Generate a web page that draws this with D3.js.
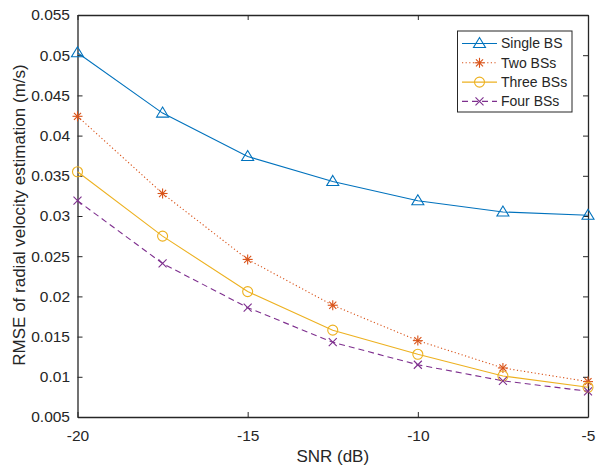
<!DOCTYPE html>
<html>
<head>
<meta charset="utf-8">
<script src="https://cdn.jsdelivr.net/npm/d3@7"></script>
<style>
    body { margin: 0; background: #fff; }
    text { font-family: "Liberation Sans", Arial, sans-serif; fill: #262626; }
</style>
</head>
<body>
<svg id="chart" width="597" height="468"></svg>
<script>
var snr = [-20, -17.5, -15, -12.5, -10, -7.5, -5];
var singleBS = [0.0503, 0.0428, 0.0374, 0.0343, 0.0319, 0.0305, 0.0301];
var twoBSs = [0.0424, 0.0328, 0.0246, 0.0189, 0.0145, 0.0111, 0.0094];
var threeBSs = [0.0355, 0.0275, 0.0206, 0.0158, 0.0128, 0.0101, 0.0087];
var fourBSs = [0.0319, 0.0241, 0.0186, 0.0143, 0.0115, 0.0095, 0.0082];
var xTicks = [-20, -15, -10, -5];
var yTicks = [0.005, 0.01, 0.015, 0.02, 0.025, 0.03, 0.035, 0.04, 0.045, 0.05, 0.055];
var seriesNames = ["Single BS", "Two BSs", "Three BSs", "Four BSs"];

var series = [
    { name: seriesNames[0], values: singleBS, color: "#0072BD", dash: null, marker: "triangle" },
    { name: seriesNames[1], values: twoBSs, color: "#D95319", dash: "1.2,2.4", marker: "star" },
    { name: seriesNames[2], values: threeBSs, color: "#EDB120", dash: null, marker: "circle" },
    { name: seriesNames[3], values: fourBSs, color: "#7E2F8E", dash: "6,4", marker: "cross" }
];

var svg = d3.select("#chart");
var plotLeft = 77.5, plotRight = 588, plotTop = 15, plotBottom = 417;

var x = d3.scaleLinear().domain([-20, -5]).range([plotLeft, plotRight]);
var y = d3.scaleLinear().domain([0.005, 0.055]).range([plotBottom, plotTop]);

var axisColor = "#262626";

// axes with inward ticks (MATLAB style)
var gx = svg.append("g").attr("transform", "translate(0," + plotBottom + ")")
    .call(d3.axisBottom(x).tickValues(xTicks).tickSizeInner(-5).tickSizeOuter(0)
        .tickFormat(function (d) { return d; }));
var gxt = svg.append("g").attr("transform", "translate(0," + plotTop + ")")
    .call(d3.axisTop(x).tickValues(xTicks).tickSizeInner(-5).tickSizeOuter(0).tickFormat(""));
var gy = svg.append("g").attr("transform", "translate(" + plotLeft + ",0)")
    .call(d3.axisLeft(y).tickValues(yTicks).tickSizeInner(-5).tickSizeOuter(0).tickPadding(7.5)
        .tickFormat(function (d) { return String(+d.toFixed(3)); }));
var gyr = svg.append("g").attr("transform", "translate(" + plotRight + ",0)")
    .call(d3.axisRight(y).tickValues(yTicks).tickSizeInner(-5).tickSizeOuter(0).tickFormat(""));

[gx, gxt, gy, gyr].forEach(function (g) {
    g.selectAll("path").attr("stroke", axisColor).attr("stroke-width", 1.3);
    g.selectAll("line").attr("stroke", axisColor).attr("stroke-width", 1);
    g.selectAll("text").attr("font-size", 15.5).attr("fill", axisColor)
        .style("font-family", "'Liberation Sans', Arial, sans-serif");
});
gx.selectAll("text").attr("y", 24).attr("dy", null);

// labels
svg.append("text")
    .attr("x", (plotLeft + plotRight) / 2)
    .attr("y", 462)
    .attr("text-anchor", "middle")
    .attr("font-size", 17)
    .text("SNR (dB)");

svg.append("text")
    .attr("transform", "translate(25,215) rotate(-90)")
    .attr("text-anchor", "middle")
    .attr("font-size", 17)
    .text("RMSE of radial velocity estimation (m/s)");

function drawMarker(g, type, color, cx, cy) {
    if (type === "triangle") {
        g.append("path")
            .attr("d", "M" + cx + "," + (cy - 6) + "L" + (cx + 6) + "," + (cy + 4) + "L" + (cx - 6) + "," + (cy + 4) + "Z")
            .attr("fill", "none").attr("stroke", color).attr("stroke-width", 1.1);
    } else if (type === "circle") {
        g.append("circle").attr("cx", cx).attr("cy", cy).attr("r", 5)
            .attr("fill", "none").attr("stroke", color).attr("stroke-width", 1.1);
    } else if (type === "star") {
        var r = 5;
        [0, 45, 90, 135].forEach(function (a) {
            var rad = a * Math.PI / 180;
            g.append("line")
                .attr("x1", cx - r * Math.cos(rad)).attr("y1", cy - r * Math.sin(rad))
                .attr("x2", cx + r * Math.cos(rad)).attr("y2", cy + r * Math.sin(rad))
                .attr("stroke", color).attr("stroke-width", 1.1);
        });
    } else if (type === "cross") {
        var s = 4;
        g.append("path")
            .attr("d", "M" + (cx - s) + "," + (cy - s) + "L" + (cx + s) + "," + (cy + s) +
                "M" + (cx - s) + "," + (cy + s) + "L" + (cx + s) + "," + (cy - s))
            .attr("stroke", color).attr("stroke-width", 1.1);
    }
}

var line = d3.line()
    .x(function (d, i) { return x(snr[i]); })
    .y(function (d) { return y(d); });

var plot = svg.append("g");
series.forEach(function (s) {
    plot.append("path")
        .datum(s.values)
        .attr("d", line)
        .attr("fill", "none")
        .attr("stroke", s.color)
        .attr("stroke-width", 1.1)
        .attr("stroke-dasharray", s.dash);
    s.values.forEach(function (v, i) {
        drawMarker(plot, s.marker, s.color, x(snr[i]), y(v));
    });
});

// legend
var legend = svg.append("g");
legend.append("rect")
    .attr("x", 457.5).attr("y", 31)
    .attr("width", 114.5).attr("height", 81)
    .attr("fill", "#fff").attr("stroke", axisColor).attr("stroke-width", 1);

series.forEach(function (s, i) {
    var ly = 43.5 + i * 19.3;
    legend.append("line")
        .attr("x1", 462).attr("x2", 497)
        .attr("y1", ly).attr("y2", ly)
        .attr("stroke", s.color).attr("stroke-width", 1.1)
        .attr("stroke-dasharray", s.dash);
    drawMarker(legend, s.marker, s.color, 479.5, ly);
    legend.append("text")
        .attr("x", 501).attr("y", ly)
        .attr("dy", "0.35em")
        .attr("font-size", 14)
        .text(s.name);
});
</script>
</body>
</html>
